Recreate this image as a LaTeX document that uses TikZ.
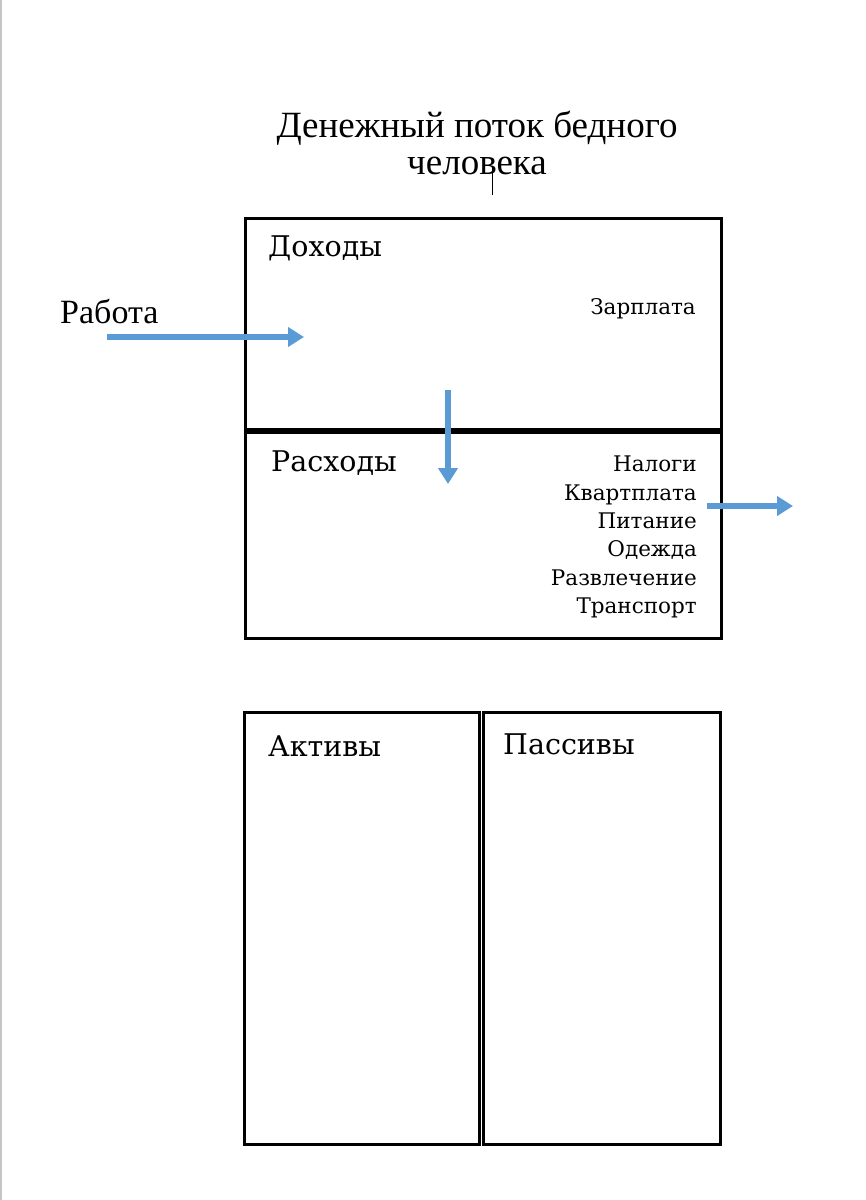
\documentclass[tikz,border=0pt]{standalone}
\usepackage{fontspec}
\setmainfont{Liberation Serif}
\newfontfamily\boxfont{DejaVu Serif}
\usetikzlibrary{arrows.meta}
\definecolor{flowblue}{RGB}{91,155,213}
\tikzset{
  frame/.style={draw, line width=3pt, inner sep=0pt, anchor=north west},
  flow/.style={draw=flowblue, line width=6pt, -{Triangle[length=16pt,width=19pt]}},
  head/.style={font=\boxfont\fontsize{28.5}{32}\selectfont, anchor=west, inner sep=0pt},
  item/.style={font=\boxfont\fontsize{21.5}{28.3}\selectfont, anchor=east, inner sep=0pt},
}
\begin{document}
\begin{tikzpicture}[x=1pt, y=-1pt]
\useasboundingbox (0,0) rectangle (866,1200);
\fill[white] (0,0) rectangle (866,1200);
\draw[gray!45, line width=2pt] (1,0) -- (1,1200);
% title
\node[align=center, font=\fontsize{37}{37}\selectfont] (title) at (477,143) {Денежный поток бедного\\человека};
\coordinate (cursortop) at (492,168);
\coordinate (cursorbot) at (492,195);
\draw[line width=0.8pt] (cursortop) -- (cursorbot);
% cash flow
\node[frame, minimum width=476pt, minimum height=211pt] (income) at (244,217) {};
\node[frame, minimum width=476pt, minimum height=209pt] (expense) at (244,428) {};
\draw[line width=5pt] (income.south west) -- (income.south east);
\node[head] (incomelbl) at (268,248) {Доходы};
\node[item] (salary) at (696,309) {Зарплата};
\node[head] (expenselbl) at (271,463) {Расходы};
\node[item, align=right, anchor=north east] (costs) at (697,456) {Налоги\\Квартплата\\Питание\\Одежда\\Развлечение\\Транспорт};
\node[anchor=west, inner sep=0pt, font=\fontsize{34}{36}\selectfont] (work) at (60,311) {Работа};
% balance sheet
\node[frame, minimum width=235pt, minimum height=432pt] (assets) at (243,711) {};
\node[frame, minimum width=237pt, minimum height=432pt] (debts) at (482,711) {};
\node[head] (assetslbl) at (268,746) {Активы};
\node[head] (debtslbl) at (503,744) {Пассивы};
% arrows
\coordinate (workstart) at (107,337);
\coordinate (workend) at (304,337);
\coordinate (spendtop) at (448,390);
\coordinate (spendend) at (448,484);
\coordinate (outstart) at (707,506);
\coordinate (outend) at (793,506);
\draw[flow] (workstart) -- (workend);
\draw[flow] (spendtop) -- (spendend);
\draw[flow] (outstart) -- (outend);
\end{tikzpicture}
\end{document}
